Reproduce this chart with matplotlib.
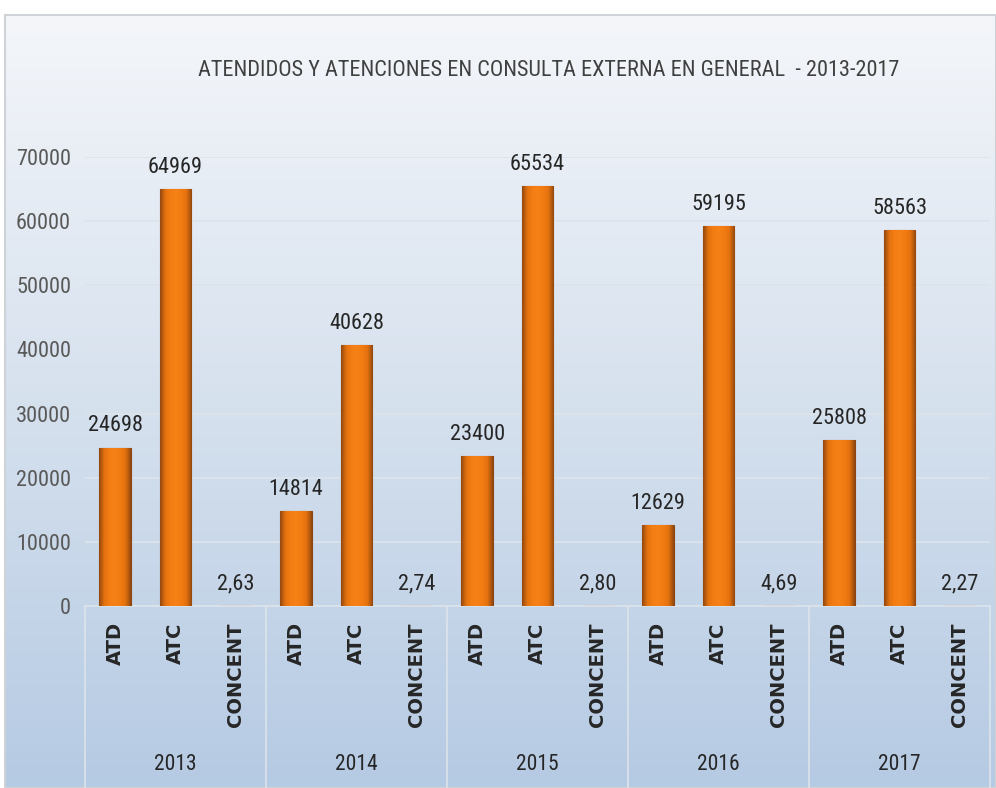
import numpy as np
import matplotlib
matplotlib.use("Agg")
import matplotlib.pyplot as plt
from matplotlib.colors import LinearSegmentedColormap
from matplotlib.patches import Rectangle
import matplotlib.transforms as mtransforms

years = ["2013", "2014", "2015", "2016", "2017"]
series = ["ATD", "ATC", "CONCENT"]
atd = [24698, 14814, 23400, 12629, 25808]
atc = [64969, 40628, 65534, 59195, 58563]
concent = [2.63, 2.74, 2.80, 4.69, 2.27]

title = "ATENDIDOS Y ATENCIONES EN CONSULTA EXTERNA EN GENERAL  - 2013-2017"

narrow = ["Roboto Condensed", "Carlito", "DejaVu Sans"]

fig = plt.figure(figsize=(9.96, 7.88), dpi=100)
fig.patch.set_facecolor("white")

# background panel with vertical gradient
bg = fig.add_axes([5 / 996, 0, 991 / 996, 1 - 15 / 788])
bg_cmap = LinearSegmentedColormap.from_list("bg", ["#b5cae3", "#d6e1ee", "#f4f6fa"])
bg.imshow(np.linspace(0, 1, 256).reshape(-1, 1)[::-1], cmap=bg_cmap,
          aspect="auto", extent=(0, 1, 0, 1))
bg.set_xlim(0, 1)
bg.set_ylim(0, 1)
bg.axis("off")
bg.add_patch(Rectangle((0, 0), 1, 1, fill=False, edgecolor="#cfd3d8",
                       linewidth=1.5, transform=bg.transAxes, clip_on=False))

fig.text(0.551, 1 - 70 / 788, title, ha="center", va="center",
         fontsize=16, color="#404040", family=narrow)

left, right, bottom, top = 85 / 996, 990 / 996, 1 - 606 / 788, 1 - 157 / 788
ax = fig.add_axes([left, bottom, right - left, top - bottom])
ax.set_facecolor("none")

# flatten values in category order
values = []
labels = []
for i in range(len(years)):
    for name, vals in zip(series, [atd, atc, concent]):
        values.append(vals[i])
        labels.append(name)
xs = np.arange(len(values))

bar_cmap = LinearSegmentedColormap.from_list(
    "bar", ["#94490e", "#e4720f", "#f47e14", "#f58117", "#f27c12", "#e4720f", "#94490e"])
bars = ax.bar(xs, values, width=0.52, color="#f07810", edgecolor="#8a4512",
              linewidth=0.8, zorder=3)
for b in bars:
    if b.get_height() < 1:
        continue
    x0 = b.get_x()
    im = ax.imshow(np.linspace(0, 1, 64).reshape(1, -1), cmap=bar_cmap,
                   aspect="auto", extent=(x0, x0 + b.get_width(), 0, b.get_height()),
                   zorder=3.5)
    im.set_clip_path(b)

for x, v, lab in zip(xs, values, labels):
    txt = "%d" % v if lab != "CONCENT" else ("%.2f" % v).replace(".", ",")
    ax.annotate(txt, (x, v), xytext=(0, 8), textcoords="offset points",
                ha="center", va="bottom", fontsize=16, color="#262626",
                family=narrow, annotation_clip=False)

ax.set_xlim(-0.5, len(values) - 0.5)
ax.set_ylim(0, 70000)
ax.set_yticks(range(0, 70001, 10000))
ax.yaxis.grid(True, color="#dde3ea", linewidth=1.2, zorder=0)
ax.set_axisbelow(True)
ax.tick_params(axis="y", length=0, pad=10, labelsize=16, labelcolor="#595959")
for t in ax.get_yticklabels():
    t.set_family(narrow)
ax.set_xticks([])
for s in ["top", "right", "left"]:
    ax.spines[s].set_visible(False)
ax.spines["bottom"].set_color("#dde3ea")
ax.spines["bottom"].set_linewidth(1.2)

# multi-level category axis
trans = mtransforms.blended_transform_factory(ax.transData, ax.transAxes)
for x, lab in zip(xs, labels):
    ax.text(x, -0.036, lab, rotation=90, ha="center", va="top", fontsize=14,
            fontweight="bold", color="#262626", transform=trans)
for i, yr in enumerate(years):
    ax.text(i * 3 + 1, -0.354, yr, ha="center", va="center", fontsize=15.5,
            color="#262626", family=narrow, transform=trans)
for i in range(len(years) + 1):
    ax.plot([i * 3 - 0.5] * 2, [0, -0.41], color="#dde3ea", linewidth=1.2,
            transform=trans, clip_on=False)

fig.savefig("out.png", dpi=100)
